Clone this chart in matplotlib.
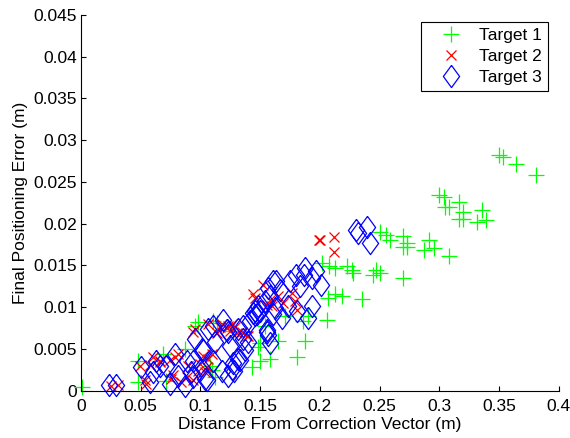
"""Final positioning error vs. distance from correction vector (3 targets)."""

import matplotlib

matplotlib.use("Agg")
import matplotlib.pyplot as plt

plt.rcParams["font.family"] = ["Liberation Sans", "DejaVu Sans"]

# ── data ────────────────────────────────────────────────────────────────────
t1_x = [0.350, 0.3536, 0.364, 0.3807, 0.300, 0.3042, 0.3165, 0.3048, 0.3084,
        0.3201, 0.3355, 0.3165, 0.3201, 0.3318, 0.3391, 0.2699, 0.2732, 0.2732,
        0.2694, 0.2917, 0.2958, 0.2875, 0.3084, 0.2694, 0.2504, 0.2554, 0.2587,
        0.2016, 0.2079, 0.2127, 0.223, 0.2267, 0.2275, 0.247, 0.2504, 0.2448,
        0.2127, 0.2071, 0.2183, 0.235, 0.2062, 0.1652, 0.1876, 0.1806, 0.1583,
        0.1499, 0.1429, 0.1485, 0.1903, 0.1708, 0.1861, 0.0982, 0.1108, 0.1541,
        0.108, 0.1122, 0.001, 0.0477, 0.0477, 0.0687, 0.0714, 0.0868, 0.0952,
        0.1136, 0.1275, 0.1094, 0.1499]
t1_y = [0.0282, 0.0280, 0.0272, 0.0258, 0.0235, 0.0232, 0.0226, 0.0220, 0.0220,
        0.0214, 0.0216, 0.0206, 0.0206, 0.0202, 0.0204, 0.0185, 0.0177, 0.0172,
        0.0172, 0.0180, 0.0171, 0.0168, 0.0161, 0.0135, 0.0190, 0.0187, 0.0181,
        0.0153, 0.0149, 0.0147, 0.0149, 0.0145, 0.0141, 0.0145, 0.0141, 0.0139,
        0.0116, 0.0111, 0.0113, 0.0110, 0.0085, 0.0060, 0.0060, 0.0040, 0.0038,
        0.0036, 0.0028, 0.0052, 0.0090, 0.0090, 0.0084, 0.0082, 0.0084, 0.0078,
        0.0030, 0.0016, 0.0005, 0.0036, 0.0010, 0.0044, 0.0012, 0.0050, 0.0078,
        0.0081, 0.0071, 0.0025, 0.0057]

t2_x = [0.2001, 0.1989, 0.2118, 0.2118, 0.1527, 0.1443, 0.1583, 0.1652, 0.1694,
        0.1764, 0.1806, 0.1555, 0.1457, 0.1597, 0.1792, 0.1066, 0.1233, 0.129,
        0.1024, 0.1066, 0.0996, 0.0982, 0.1053, 0.1262, 0.1164, 0.1038, 0.1094,
        0.0254, 0.031, 0.0492, 0.0547, 0.0603, 0.0659, 0.0785, 0.0812, 0.0756,
        0.084, 0.0938, 0.0952, 0.0896, 0.0661, 0.0745, 0.0773, 0.0885, 0.094,
        0.1136, 0.122, 0.1304, 0.1387, 0.0578, 0.0536, 0.125, 0.135, 0.140,
        0.118]
t2_y = [0.0180, 0.0181, 0.0184, 0.0166, 0.0127, 0.0116, 0.0109, 0.0113, 0.0105,
        0.0117, 0.0097, 0.0103, 0.0111, 0.0101, 0.0107, 0.0080, 0.0078, 0.0076,
        0.0042, 0.0038, 0.0032, 0.0024, 0.0028, 0.0080, 0.0076, 0.0022, 0.0044,
        0.0006, 0.0007, 0.0030, 0.0008, 0.0040, 0.0034, 0.0040, 0.0044, 0.0014,
        0.0010, 0.0070, 0.0074, 0.0030, 0.0035, 0.0037, 0.0019, 0.0017, 0.0013,
        0.0069, 0.0075, 0.0069, 0.0065, 0.0031, 0.0013, 0.0072, 0.0070, 0.0065,
        0.0080]

t3_x = [0.23, 0.2397, 0.2322, 0.242, 0.1968, 0.201, 0.1633, 0.175, 0.18,
        0.187, 0.1876, 0.1568, 0.1666, 0.1834, 0.1932, 0.1932, 0.1903, 0.1583,
        0.1499, 0.1457, 0.1555, 0.1583, 0.1373, 0.1275, 0.1192, 0.122, 0.1066,
        0.1233, 0.1317, 0.1359, 0.1415, 0.1471, 0.1457, 0.1555, 0.1485, 0.1624,
        0.1681, 0.1736, 0.1806, 0.161, 0.1541, 0.1317, 0.1262, 0.1233, 0.1178,
        0.1108, 0.1038, 0.1011, 0.1122, 0.1401, 0.0232, 0.0296, 0.0505, 0.0575,
        0.0631, 0.0714, 0.0785, 0.0743, 0.0812, 0.0868, 0.0924, 0.0938, 0.0952,
        0.0603, 0.0661, 0.0885, 0.094, 0.0996, 0.1053, 0.1024, 0.1108, 0.1248,
        0.1331, 0.1278, 0.1359, 0.1443, 0.161, 0.1568]
t3_y = [0.0193, 0.0196, 0.0189, 0.0177, 0.0143, 0.0127, 0.0131, 0.0131, 0.0139,
        0.0139, 0.0147, 0.0123, 0.0121, 0.0125, 0.0135, 0.0101, 0.0087, 0.0113,
        0.0095, 0.0091, 0.0073, 0.0057, 0.0049, 0.0033, 0.0085, 0.0073, 0.0074,
        0.0070, 0.0074, 0.0062, 0.0084, 0.0092, 0.0096, 0.0070, 0.0101, 0.0099,
        0.0087, 0.0101, 0.0096, 0.0092, 0.0107, 0.0038, 0.0026, 0.0018, 0.0024,
        0.0036, 0.0014, 0.0050, 0.0058, 0.0058, 0.0007, 0.0007, 0.0028, 0.0010,
        0.0036, 0.0030, 0.0044, 0.0008, 0.0018, 0.0006, 0.0022, 0.0036, 0.0062,
        0.0022, 0.0029, 0.0035, 0.0017, 0.0025, 0.0013, 0.0049, 0.0077, 0.0053,
        0.0037, 0.0023, 0.0077, 0.0093, 0.0131, 0.0067]

x_ticks = [0, 0.05, 0.1, 0.15, 0.2, 0.25, 0.3, 0.35, 0.4]
x_tick_labels = ["0", "0.05", "0.1", "0.15", "0.2", "0.25", "0.3", "0.35", "0.4"]
y_ticks = [0, 0.005, 0.01, 0.015, 0.02, 0.025, 0.03, 0.035, 0.04, 0.045]
y_tick_labels = ["0", "0.005", "0.01", "0.015", "0.02", "0.025", "0.03",
                 "0.035", "0.04", "0.045"]

# MATLAB-style diamond (taller than wide)
DIAMOND = [(0, 1), (0.73, 0), (0, -1), (-0.73, 0), (0, 1)]
FS = 12.5


def main() -> None:
    fig = plt.figure(figsize=(5.7, 4.38), dpi=100)
    ax = fig.add_axes([81 / 570, 1 - 390.7 / 438, 477.7 / 570, 375.7 / 438])

    ax.plot(t1_x, t1_y, ls="none", marker="+", ms=11, mew=0.9,
            color=(0, 1, 0), label="Target 1", clip_on=False)
    ax.plot(t2_x, t2_y, ls="none", marker="x", ms=7.5, mew=0.9,
            color=(1, 0, 0), label="Target 2", clip_on=False)
    ax.plot(t3_x, t3_y, ls="none", marker=DIAMOND, ms=16, mew=0.9,
            mfc="none", mec=(0, 0, 1), label="Target 3", clip_on=False)

    ax.set_xlim(0, 0.4)
    ax.set_ylim(0, 0.045)
    ax.set_xticks(x_ticks)
    ax.set_xticklabels(x_tick_labels)
    ax.set_yticks(y_ticks)
    ax.set_yticklabels(y_tick_labels)
    ax.tick_params(direction="in", length=3.5, width=0.8, labelsize=FS,
                   top=False, right=False)
    ax.tick_params(axis="x", pad=6)
    ax.tick_params(axis="y", pad=3)
    for side in ("top", "right"):
        ax.spines[side].set_visible(False)
    for side in ("left", "bottom"):
        ax.spines[side].set_linewidth(0.8)

    ax.set_xlabel("Distance From Correction Vector (m)", fontsize=FS, labelpad=2)
    ax.set_ylabel("Final Positioning Error (m)", fontsize=FS, labelpad=4)

    leg = ax.legend(loc="upper right", bbox_to_anchor=(0.978, 0.982),
                    fontsize=FS, fancybox=False, framealpha=1,
                    edgecolor="black", borderpad=0.35, labelspacing=0.33,
                    handletextpad=0.3, handlelength=2.7, borderaxespad=0)
    leg.get_frame().set_linewidth(0.8)

    fig.savefig("out.png", dpi=100)
    plt.close(fig)


if __name__ == "__main__":
    main()
